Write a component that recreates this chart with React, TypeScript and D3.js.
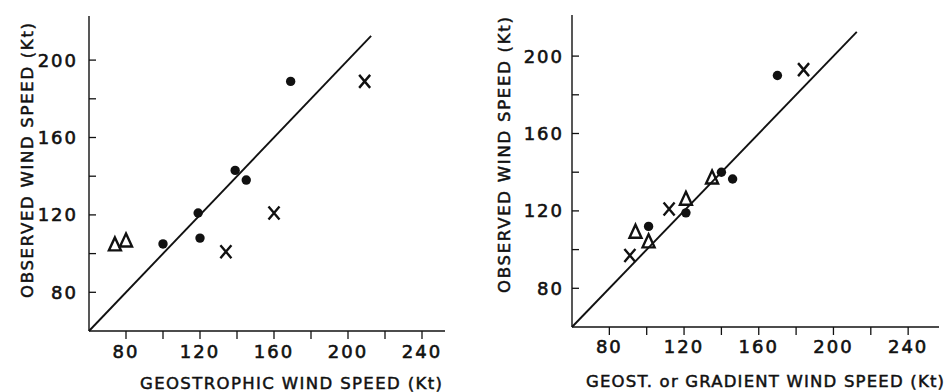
import React from "react";
import * as d3 from "d3";

// ---- data ----
const leftDots: [number, number][] = [
  [100, 105], [119, 121], [120, 108], [139, 143], [145, 138], [169, 189],
];
const leftCrosses: [number, number][] = [
  [134, 101], [160, 121], [209, 189],
];
const leftTriangles: [number, number][] = [
  [74, 104.5], [80, 106.5],
];
const rightDots: [number, number][] = [
  [101, 112], [121, 119], [140, 140], [146, 136.5], [170, 190],
];
const rightCrosses: [number, number][] = [
  [91, 97], [112, 121], [184, 193],
];
const rightTriangles: [number, number][] = [
  [94, 109], [101, 104], [121, 126], [135, 137],
];
const xTickValues = [80, 100, 120, 140, 160, 180, 200, 220, 240];
const xTickLabels = [80, 120, 160, 200, 240];
const yTickValues = [80, 100, 120, 140, 160, 180, 200];
const yTickLabels = [80, 120, 160, 200];
const lineExtent = [60, 212.5];

const FONT = "'DejaVu Sans', 'Liberation Sans', sans-serif";

type PanelProps = {
  x0: number; x1: number; y0: number; y1: number;
  xEnd: number; yTop: number;
  dots: [number, number][]; crosses: [number, number][]; triangles: [number, number][];
  xLabel: string; xLabelX: [number, number]; xLabelBase: number;
  yLabelCx: number; yLabelY: [number, number];
  yTickRight: number; xTickY: number;
};

function Panel(p: PanelProps) {
  const x = d3.scaleLinear().domain([60, 240]).range([p.x0, p.x1]);
  const y = d3.scaleLinear().domain([60, 200]).range([p.y0, p.y1]);
  const tri = (cx: number, cy: number) =>
    `M${cx},${cy - 7.5}L${cx + 6},${cy + 5.5}L${cx - 6},${cy + 5.5}Z`;
  return (
    <g>
      {/* axes */}
      <line x1={x(60)} x2={p.xEnd} y1={y(60)} y2={y(60)} stroke="#111" strokeWidth={1.4} />
      <line x1={x(60)} x2={x(60)} y1={y(60)} y2={p.yTop} stroke="#111" strokeWidth={1.4} />
      {xTickValues.map((v) => (
        <line key={"xt" + v} x1={x(v)} x2={x(v)} y1={y(60)} y2={y(60) + 8} stroke="#111" strokeWidth={1.3} />
      ))}
      {yTickValues.map((v) => (
        <line key={"yt" + v} x1={x(60)} x2={x(60) + 7} y1={y(v)} y2={y(v)} stroke="#111" strokeWidth={1.3} />
      ))}
      {xTickLabels.map((v) => (
        <text key={"xl" + v} x={x(v)} y={p.xTickY} textAnchor="middle" fontFamily={FONT}
          fontSize={18} letterSpacing={2} fill="#111" stroke="#111" strokeWidth={0.6}>{v}</text>
      ))}
      {yTickLabels.map((v) => (
        <text key={"yl" + v} x={p.yTickRight} y={y(v) + 6.5} textAnchor="end" fontFamily={FONT}
          fontSize={18} letterSpacing={2} fill="#111" stroke="#111" strokeWidth={0.6}>{v}</text>
      ))}
      {/* 1:1 line */}
      <line x1={x(lineExtent[0])} y1={y(lineExtent[0])} x2={x(lineExtent[1])} y2={y(lineExtent[1])}
        stroke="#111" strokeWidth={1.9} />
      {/* markers */}
      {p.dots.map(([a, b], i) => (
        <circle key={"d" + i} cx={x(a)} cy={y(b)} r={4.7} fill="#111" />
      ))}
      {p.crosses.map(([a, b], i) => (
        <path key={"c" + i}
          d={`M${x(a) - 5.5},${y(b) - 6.5}L${x(a) + 5.5},${y(b) + 6.5}M${x(a) + 5.5},${y(b) - 6.5}L${x(a) - 5.5},${y(b) + 6.5}`}
          stroke="#111" strokeWidth={2.4} fill="none" />
      ))}
      {p.triangles.map(([a, b], i) => (
        <path key={"t" + i} d={tri(x(a), y(b))} stroke="#111" strokeWidth={2.4} fill="none" strokeLinejoin="miter" />
      ))}
      {/* axis titles */}
      <text x={p.xLabelX[0]} y={p.xLabelBase} fontFamily={FONT} fontSize={16.5}
        stroke="#111" strokeWidth={0.5}
        textLength={p.xLabelX[1] - p.xLabelX[0]} lengthAdjust="spacing" fill="#111">{p.xLabel}</text>
      <text transform={`translate(${p.yLabelCx},${p.yLabelY[1]}) rotate(-90)`} fontFamily={FONT} fontSize={16.5}
        stroke="#111" strokeWidth={0.5}
        textLength={p.yLabelY[1] - p.yLabelY[0]} lengthAdjust="spacing" fill="#111">OBSERVED WIND SPEED (Kt)</text>
    </g>
  );
}

export default function App() {
  return (
    <svg width={951} height={392} style={{ position: "absolute", left: 0, top: 0, background: "#fff" }}>
      <rect width={951} height={392} fill="#fff" />
      <Panel x0={89} x1={89 + 180 * 1.85} y0={331} y1={331 - 140 * 1.935}
        xEnd={445} yTop={16}
        dots={leftDots} crosses={leftCrosses} triangles={leftTriangles}
        xLabel="GEOSTROPHIC WIND SPEED (Kt)" xLabelX={[140, 442]} xLabelBase={389}
        yLabelCx={33} yLabelY={[23, 298]} yTickRight={78} xTickY={358} />
      <Panel x0={572} x1={572 + 180 * 1.8675} y0={327} y1={327 - 140 * 1.935}
        xEnd={939} yTop={15}
        dots={rightDots} crosses={rightCrosses} triangles={rightTriangles}
        xLabel="GEOST. or GRADIENT WIND SPEED (Kt)" xLabelX={[586, 944]} xLabelBase={387}
        yLabelCx={510} yLabelY={[17, 293]} yTickRight={564} xTickY={353} />
    </svg>
  );
}
